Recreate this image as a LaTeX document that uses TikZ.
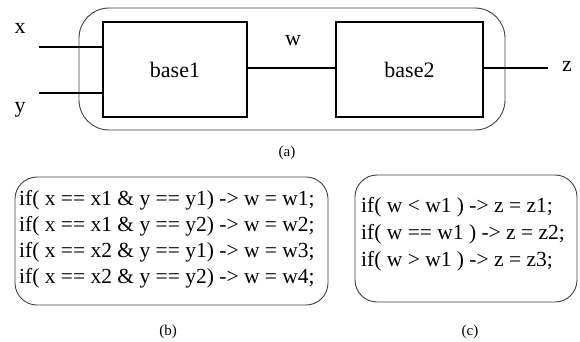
\documentclass[tikz,border=0pt]{standalone}
\usepackage{fontspec}
\setmainfont{Liberation Serif}
\begin{document}
\begin{tikzpicture}[x=1pt,y=-1pt,
  blk/.style={draw,line width=1.8pt,minimum width=144pt,minimum height=95pt,inner sep=0pt,font=\fontsize{22}{26}\selectfont},
  grp/.style={draw=black!75,line width=0.9pt,rounded corners=#1},
  wire/.style={line width=1.6pt},
  lbl/.style={font=\fontsize{22}{26}\selectfont,inner sep=0pt},
  code/.style={font=\fontsize{21.5}{26}\selectfont,inner sep=0pt,anchor=base west},
  captxt/.style={font=\fontsize{15}{18}\selectfont,inner sep=0pt}]
\useasboundingbox (0,0) rectangle (580,341);
% group (a)
\draw[grp=30pt] (79,8) rectangle (505,130);
\node[blk] (b1) at (175,69.5) {base1};
\node[blk,minimum width=147pt] (b2) at (409.5,69.5) {base2};
\coordinate (xin) at (39,47);
\coordinate (yin) at (39,93);
\coordinate (zout) at (548,68);
\draw[wire] (xin) -- (xin -| b1.west);
\draw[wire] (yin) -- (yin -| b1.west);
\draw[wire] (b1.east |- zout) -- (b2.west |- zout);
\draw[wire] (b2.east |- zout) -- (zout);
\node[lbl] (lx) at (20,28) {x};
\node[lbl] (ly) at (20,110) {y};
\node[lbl] (lw) at (293,41) {w};
\node[lbl] (lz) at (567,66) {z};
\node[captxt] (ca) at (287,153) {(a)};
% group (b)
\draw[grp=22pt] (15,177) rectangle (328,305);
\node[code] (b1l) at (19,205) {if( x == x1 \& y == y1) -> w = w1;};
\node[code] (b2l) at (19,231) {if( x == x1 \& y == y2) -> w = w2;};
\node[code] (b3l) at (19,257) {if( x == x2 \& y == y1) -> w = w3;};
\node[code] (b4l) at (19,283) {if( x == x2 \& y == y2) -> w = w4;};
\node[captxt] (cb) at (168,332) {(b)};
% group (c)
\draw[grp=22pt] (355,175) rectangle (577,302);
\node[code] (c1l) at (361,212) {if( w < w1 ) -> z = z1;};
\node[code] (c2l) at (361,239) {if( w == w1 ) -> z = z2;};
\node[code] (c3l) at (361,266) {if( w > w1 ) -> z = z3;};
\node[captxt] (cc) at (470,332) {(c)};
\end{tikzpicture}
\end{document}
